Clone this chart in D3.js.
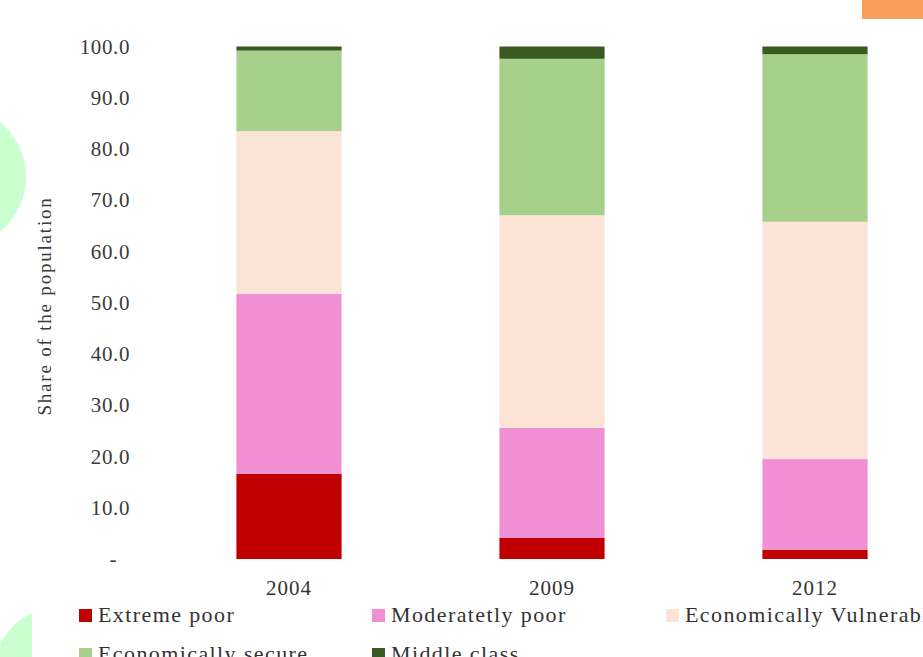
<!doctype html>
<html>
<head>
<meta charset="utf-8">
<title>Share of the population</title>
<script src="https://d3js.org/d3.v7.min.js"></script>
<style>
  body { margin: 0; background: #fff; }
  svg { font-family: "Liberation Serif", "Times New Roman", serif; }
  .tick line, .domain { display: none; }
</style>
</head>
<body>
<div id="chart"></div>
<script>
// data
const years = ["2004", "2009", "2012"];
const groups = ["Extreme poor", "Moderatetly poor", "Economically Vulnerable", "Economically secure", "Middle class"];
const extremePoor   = [16.6, 4.1, 1.8];
const moderatePoor  = [35.1, 21.5, 17.7];
const vulnerable    = [31.8, 41.5, 46.3];
const secure        = [15.7, 30.5, 32.7];
const middleClass   = [0.8, 2.4, 1.5];
const yTicks = [0, 10, 20, 30, 40, 50, 60, 70, 80, 90, 100];

const colors = ["#c00000", "#f08fd3", "#fbe3d6", "#a7d08b", "#3b5a23"];

const rows = years.map((y, i) => ({
  year: y,
  "Extreme poor": extremePoor[i],
  "Moderatetly poor": moderatePoor[i],
  "Economically Vulnerable": vulnerable[i],
  "Economically secure": secure[i],
  "Middle class": middleClass[i]
}));

const W = 923, H = 657;
const svg = d3.select("#chart").append("svg")
  .attr("width", W).attr("height", H);

// background decorations
svg.append("circle").attr("cx", -45).attr("cy", 177).attr("r", 71).attr("fill", "#ccffcf");
svg.append("path").attr("d", "M32,613 L32,657 L0,657 L0,644 Q12,622 32,613 Z").attr("fill", "#ccffcf");
svg.append("rect").attr("x", 862).attr("y", 0).attr("width", 61).attr("height", 19).attr("fill", "#f99d5b");

const x = d3.scaleBand().domain(years).range([157.5, 946.5])
  .paddingInner(0.6).paddingOuter(0.3);
const y = d3.scaleLinear().domain([0, 100]).range([559, 46.5]);
const color = d3.scaleOrdinal().domain(groups).range(colors);

const stacked = d3.stack().keys(groups)(rows);

svg.append("g")
  .selectAll("g")
  .data(stacked)
  .join("g")
    .attr("fill", d => color(d.key))
  .selectAll("rect")
  .data(d => d)
  .join("rect")
    .attr("x", d => x(d.data.year))
    .attr("y", d => y(d[1]))
    .attr("height", d => y(d[0]) - y(d[1]))
    .attr("width", x.bandwidth());

// y axis (labels only)
const yAxis = svg.append("g")
  .attr("transform", "translate(130,0)")
  .call(d3.axisLeft(y).tickValues(yTicks).tickSize(0).tickPadding(0)
    .tickFormat(d => d === 0 ? "-" : d.toFixed(1)));
yAxis.selectAll("text")
  .attr("font-size", 21).attr("fill", "#3a3a3a").attr("font-family", "Liberation Serif")
  .attr("letter-spacing", 0.6)
  .attr("dx", d => d === 0 ? -13 : 0);

// x axis (labels only)
const xAxis = svg.append("g")
  .attr("transform", "translate(0,559)")
  .call(d3.axisBottom(x).tickSize(0).tickPadding(21));
xAxis.selectAll("text")
  .attr("font-size", 21).attr("fill", "#333").attr("font-family", "Liberation Serif")
  .attr("letter-spacing", 1);

svg.append("text")
  .attr("transform", "translate(51,306) rotate(-90)")
  .attr("text-anchor", "middle")
  .attr("font-size", 19).attr("fill", "#3a3a3a")
  .attr("letter-spacing", 1.8)
  .text("Share of the population");

// legend
const legX = [79, 372, 666];
const legY = [609, 648];
const legend = svg.append("g").selectAll("g")
  .data(groups)
  .join("g")
    .attr("transform", (d, i) => `translate(${legX[i % 3]},${legY[Math.floor(i / 3)]})`);
legend.append("rect")
  .attr("width", 13).attr("height", 13)
  .attr("fill", d => color(d));
legend.append("text")
  .attr("x", 19).attr("y", 13)
  .attr("font-size", 22).attr("fill", "#333")
  .attr("letter-spacing", 1.4)
  .text(d => d);
</script>
</body>
</html>
